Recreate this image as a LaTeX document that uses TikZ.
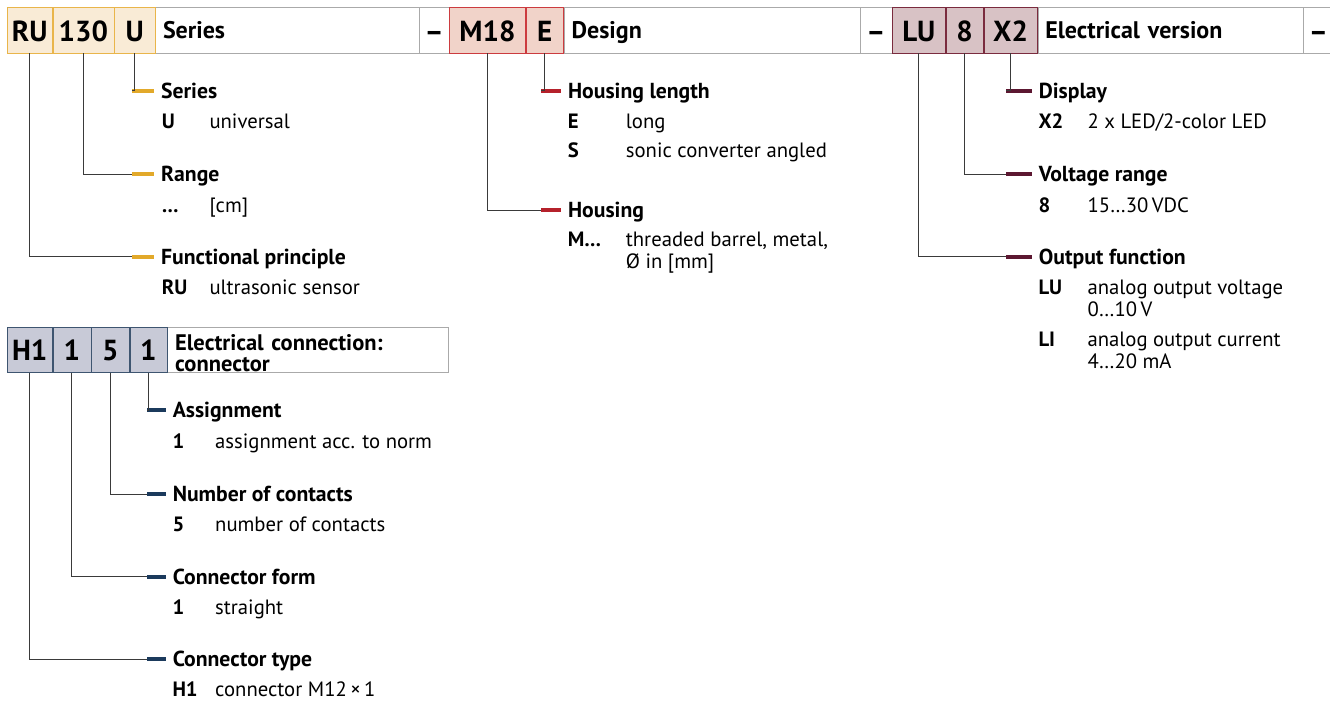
\documentclass[tikz,border=0pt]{standalone}
\usepackage{fontspec}
\setmainfont{PT Sans}
\usetikzlibrary{positioning,backgrounds}
\definecolor{serbar}{HTML}{E2A92A}
\definecolor{serline}{HTML}{E9B54A}
\definecolor{serfill}{HTML}{F9EBD6}
\definecolor{desbar}{HTML}{B5212B}
\definecolor{desline}{HTML}{CC3B3F}
\definecolor{desfill}{HTML}{F1D3C9}
\definecolor{elbar}{HTML}{5C1731}
\definecolor{elline}{HTML}{7A2B3E}
\definecolor{elfill}{HTML}{D8C2C5}
\definecolor{conbar}{HTML}{1B3A5C}
\definecolor{conline}{HTML}{3E5570}
\definecolor{confill}{HTML}{C8CAD7}
\definecolor{cellgray}{HTML}{AAAAAA}
\definecolor{wirecol}{HTML}{3A3A3A}
\tikzset{
    x=1pt, y=-1pt, line width=1pt,
    code/.style={draw=#1line, fill=#1fill, inner sep=0pt, minimum height=45.6pt,
        text height=22pt, text depth=0pt, font=\fontsize{29}{30}\selectfont\bfseries},
    blank/.style={draw=cellgray, fill=white, inner xsep=7.6pt, inner ysep=0pt, minimum height=45.6pt,
        text width=#1, align=left, text depth=0pt, font=\fontsize{24}{16.6}\selectfont\bfseries},
    sepcell/.style={draw=cellgray, fill=white, inner sep=0pt, minimum height=45.6pt,
        text height=22pt, text depth=0pt, font=\fontsize{29}{30}\selectfont\bfseries},
    bar/.style={fill=#1bar, inner sep=0pt, minimum height=4pt, anchor=west},
    head/.style={inner sep=0pt, text height=15pt, text depth=0pt, font=\fontsize{21.7}{24}\selectfont\bfseries},
    val/.style={inner sep=0pt, anchor=base west, font=\fontsize{20.7}{22.3}\selectfont},
    key/.style={val, font=\fontsize{20.7}{22.3}\selectfont\bfseries},
    wire/.style={draw=wirecol, line width=1pt}
}

\begin{document}
\begin{tikzpicture}
    \useasboundingbox (0,0) rectangle (1330,702);

    % type code, first row
    \node[code=ser, minimum width=45.6pt, anchor=north west] (a1) at (6.7,7) {RU};
    \node[code=ser, minimum width=61pt, right=0pt of a1] (a2) {130};
    \node[code=ser, minimum width=40.7pt, right=0pt of a2] (a3) {U};
    \begin{scope}[on background layer]
        \node[blank=248.1pt, right=0pt of a3] (a4) {Series};
        \node[sepcell, minimum width=30pt, right=0pt of a4] (a5) {–};
    \end{scope}
    \node[code=des, minimum width=76pt, right=0pt of a5] (b1) {M18};
    \node[code=des, minimum width=37.7pt, right=0pt of b1] (b2) {E};
    \begin{scope}[on background layer]
        \node[blank=280.5pt, right=0pt of b2] (b3) {Design};
        \node[sepcell, minimum width=31.6pt, right=0pt of b3] (b4) {–};
    \end{scope}
    \node[code=el, minimum width=53.4pt, right=0pt of b4] (c1) {LU};
    \node[code=el, minimum width=37.6pt, right=0pt of c1] (c2) {8};
    \node[code=el, minimum width=53.4pt, right=0pt of c2] (c3) {X2};
    \begin{scope}[on background layer]
        \node[blank=249.8pt, right=0pt of c3] (c4) {Electrical version};
        \node[sepcell, minimum width=30.6pt, right=0pt of c4] (c5) {–};
    \end{scope}

    % type code, connector
    \node[code=con, minimum width=45.6pt, anchor=north west] (d1) at (6.7,326.7) {H1};
    \node[code=con, minimum width=38pt, right=0pt of d1] (d2) {1};
    \node[code=con, minimum width=38pt, right=0pt of d2] (d3) {5};
    \node[code=con, minimum width=37.4pt, right=0pt of d3] (d4) {1};
    \begin{scope}[on background layer]
        \node[blank=265.8pt, text depth=14pt, font=\fontsize{22.5}{19}\selectfont\bfseries,
            right=0pt of d4] (d5) {Electrical connection:\\[1.5pt]connector};
    \end{scope}

    % series
    \node[bar=ser, minimum width=22.3pt] (ba3) at (131.7,90.7) {};
    \node[bar=ser, minimum width=22.3pt] (ba2) at (131.7,174) {};
    \node[bar=ser, minimum width=22.3pt] (ba1) at (131.7,256.7) {};
    \node[head, right=6.5pt of ba3] (ta3) {Series};
    \node[head, right=6.5pt of ba2] (ta2) {Range};
    \node[head, right=6.5pt of ba1] (ta1) {Functional principle};
    \node[key] (ka3) at (161.7,128.3) {U};
    \node[val] (va3) at (209.3,128.3) {universal};
    \node[key] (ka2) at (161.7,212.3) {…};
    \node[val] (va2) at (209.3,212.3) {[cm]};
    \node[key] (ka1) at (161.7,294.3) {RU};
    \node[val] (va1) at (209.3,294.3) {ultrasonic sensor};
    \draw[wire] (a3.south) |- (ba3.west);
    \draw[wire] (a2.south) |- (ba2.west);
    \draw[wire] (a1.south) |- (ba1.west);

    % design
    \node[bar=des, minimum width=20pt] (bb2) at (541,90.7) {};
    \node[bar=des, minimum width=20pt] (bb1) at (541,210) {};
    \node[head, right=6.5pt of bb2] (tb2) {Housing length};
    \node[head, right=6.5pt of bb1] (tb1) {Housing};
    \node[key] (kb2) at (567.7,128.3) {E};
    \node[val] (vb2) at (625.7,128.3) {long};
    \node[key] (kb3) at (567.7,157.3) {S};
    \node[val] (vb3) at (625.7,157.3) {sonic converter angled};
    \node[key] (kb1) at (567.7,246.6) {M…};
    \node[val, align=left] (vb1) at (625.7,268.9) {threaded barrel, metal,\\Ø in [mm]};
    \draw[wire] (b2.south) |- (bb2.west);
    \draw[wire] (b1.south) |- (bb1.west);

    % electrical version
    \node[bar=el, minimum width=25.7pt] (bc3) at (1006,90.7) {};
    \node[bar=el, minimum width=25.7pt] (bc2) at (1006,174) {};
    \node[bar=el, minimum width=25.7pt] (bc1) at (1006,256.7) {};
    \node[head, right=6.5pt of bc3] (tc3) {Display};
    \node[head, right=6.5pt of bc2] (tc2) {Voltage range};
    \node[head, right=6.5pt of bc1] (tc1) {Output function};
    \node[key] (kc3) at (1038.3,128.3) {X2};
    \node[val] (vc3) at (1087.3,128.3) {2 x LED/2-color LED};
    \node[key] (kc2) at (1038.3,212.3) {8};
    \node[val] (vc2) at (1087.3,212.3) {15…30\,VDC};
    \node[key] (kc1) at (1038.3,294.3) {LU};
    \node[val, align=left] (vc1) at (1087.3,316.6) {analog output voltage\\0…10\,V};
    \node[key] (kc4) at (1038.3,346) {LI};
    \node[val, align=left] (vc4) at (1087.3,368.3) {analog output current\\4…20 mA};
    \draw[wire] (c3.south) |- (bc3.west);
    \draw[wire] (c2.south) |- (bc2.west);
    \draw[wire] (c1.south) |- (bc1.west);

    % electrical connection
    \node[bar=con, minimum width=19pt] (bd4) at (146.7,410) {};
    \node[bar=con, minimum width=19pt] (bd3) at (146.7,494) {};
    \node[bar=con, minimum width=19pt] (bd2) at (146.7,576.7) {};
    \node[bar=con, minimum width=19pt] (bd1) at (146.7,659.3) {};
    \node[head, right=6.5pt of bd4] (td4) {Assignment};
    \node[head, right=6.5pt of bd3] (td3) {Number of contacts};
    \node[head, right=6.5pt of bd2] (td2) {Connector form};
    \node[head, right=6.5pt of bd1] (td1) {Connector type};
    \node[key] (kd4) at (172.3,448.3) {1};
    \node[val] (vd4) at (215,448.3) {assignment acc. to norm};
    \node[key] (kd3) at (172.3,531.6) {5};
    \node[val] (vd3) at (215,531.6) {number of contacts};
    \node[key] (kd2) at (172.3,614.3) {1};
    \node[val] (vd2) at (215,614.3) {straight};
    \node[key] (kd1) at (172.3,696.6) {H1};
    \node[val] (vd1) at (215,696.6) {connector M12\,×\,1};
    \draw[wire] (d4.south) |- (bd4.west);
    \draw[wire] (d3.south) |- (bd3.west);
    \draw[wire] (d2.south) |- (bd2.west);
    \draw[wire] (d1.south) |- (bd1.west);
\end{tikzpicture}
\end{document}
